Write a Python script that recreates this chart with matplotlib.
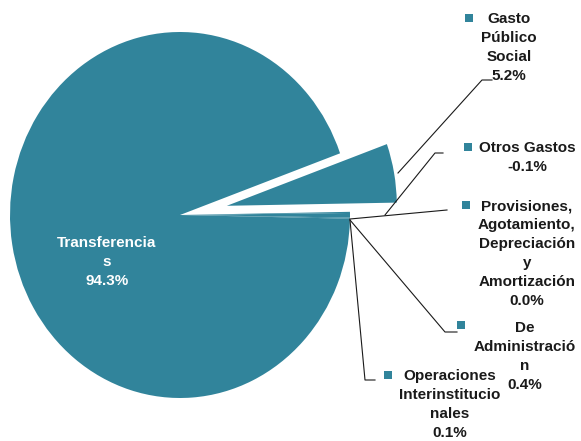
import matplotlib
matplotlib.use('Agg')
import matplotlib.pyplot as plt
import numpy as np

plt.rcParams.update({
    'font.family': ['Liberation Sans', 'DejaVu Sans'],
    'font.size': 11,
    'font.weight': 'bold',
})

TEAL = '#31849B'
INK = '#1a1a1a'

# data (clockwise order as drawn)
categories = ['Gasto Público Social', 'Otros Gastos',
              'Provisiones, Agotamiento, Depreciación y Amortización',
              'De Administración', 'Operaciones Interinstitucionales',
              'Transferencias']
shares = [5.2, -0.1, 0.0, 0.4, 0.1, 94.3]
# label text as wrapped in the original
wrapped = ['Gasto\nPúblico\nSocial', 'Otros Gastos',
           'Provisiones,\nAgotamiento,\nDepreciación\ny\nAmortización',
           'De\nAdministració\nn', 'Operaciones\nInterinstitucio\nnales',
           'Transferencia\ns']

W, H = 581, 441
CX, CY, RX, RY = 180, 215, 170, 183


def px(x, y):
    """pixel position (from top-left) -> data coords"""
    return (x - CX) / RX, (CY - y) / RY


fig = plt.figure(figsize=(W / 100, H / 100), dpi=100)
ax = fig.add_axes([0, 0, 1, 1])

sizes = np.abs(shares)
explode = [0.28, 0, 0, 0, 0, 0]
ax.pie(sizes, explode=explode, startangle=19.7, counterclock=False,
       colors=[TEAL] * len(sizes), wedgeprops=dict(linewidth=0))

ax.set_aspect('auto')
ax.set_xlim(-CX / RX, (W - CX) / RX)
ax.set_ylim(-(H - CY) / RY, CY / RY)
ax.axis('off')

# label layout: (text centre x, first line y, marker x, marker y)
label_pos = [(509, 18, 469, 18), (527, 147, 468, 147), (527, 205, 466, 205),
             (525, 327, 461, 325), (450, 375, 388, 375)]
leaders = [
    [(398, 173), (482, 80), (492, 80)],
    [(385, 215), (435, 153), (443, 153)],
    [(350, 219), (447, 210)],
    [(350, 220), (445, 332), (457, 332)],
    [(350, 220), (365, 380), (375, 380)],
]

for i in range(5):
    tx, ty, mx, my = label_pos[i]
    txt = wrapped[i] + '\n' + '{:.1f}%'.format(shares[i])
    x, y = px(tx, ty - 6)
    ax.text(x, y, txt, ha='center', va='top', multialignment='center',
            color=INK, linespacing=1.45)
    ax.plot(*px(mx, my), 's', color=TEAL, markersize=5.5, markeredgewidth=0)
    pts = [px(a, b) for a, b in leaders[i]]
    ax.plot([p[0] for p in pts], [p[1] for p in pts], color=INK, lw=0.8)

# big slice label inside the pie
x, y = px(107, 262)
ax.text(x, y, wrapped[5] + '\n' + '{:.1f}%'.format(shares[5]), ha='center',
        va='center', multialignment='center', color='white', linespacing=1.45)

fig.savefig('out.png', dpi=100, facecolor='white')
